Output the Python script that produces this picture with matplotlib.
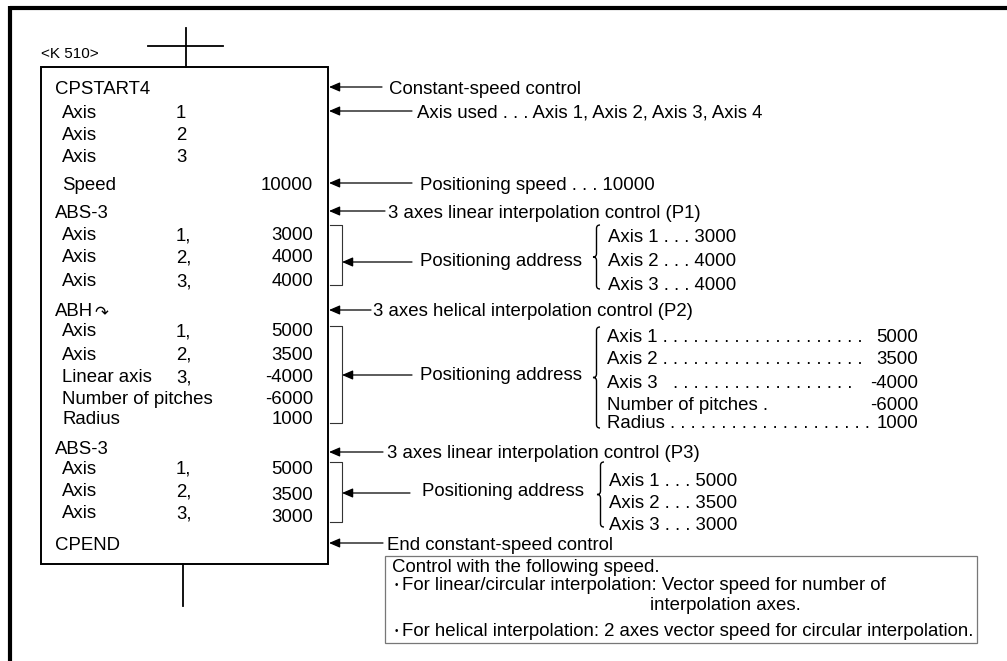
import matplotlib
matplotlib.use("Agg")
import matplotlib.pyplot as plt
from matplotlib.path import Path
from matplotlib.patches import PathPatch, Rectangle

plt.rcParams["font.family"] = ["Liberation Sans", "DejaVu Sans"]

# Program listing inside the box
prog_names = [
    "CPSTART4", "Axis", "Axis", "Axis", "Speed",
    "ABS-3", "Axis", "Axis", "Axis",
    "ABH", "Axis", "Axis", "Linear axis", "Number of pitches", "Radius",
    "ABS-3", "Axis", "Axis", "Axis",
    "CPEND",
]
prog_axes = [
    "", "1", "2", "3", "",
    "", "1,", "2,", "3,",
    "", "1,", "2,", "3,", "", "",
    "", "1,", "2,", "3,",
    "",
]
prog_values = [
    "", "", "", "", "10000",
    "", "3000", "4000", "4000",
    "", "5000", "3500", "-4000", "-6000", "1000",
    "", "5000", "3500", "3000",
    "",
]
prog_header = [1, 0, 0, 0, 0, 1, 0, 0, 0, 1, 0, 0, 0, 0, 0, 1, 0, 0, 0, 1]

# Comments pointing at the listing
note_texts = [
    "Constant-speed control",
    "Axis used . . . Axis 1, Axis 2, Axis 3, Axis 4",
    "Positioning speed . . . 10000",
    "3 axes linear interpolation control (P1)",
    "3 axes helical interpolation control (P2)",
    "3 axes linear interpolation control (P3)",
    "End constant-speed control",
]

# Positioning address details
p1_lines = ["Axis 1 . . . 3000", "Axis 2 . . . 4000", "Axis 3 . . . 4000"]
p2_labels = [
    "Axis 1" + " ." * 20,
    "Axis 2" + " ." * 20,
    "Axis 3  " + " ." * 18,
    "Number of pitches .",
    "Radius" + " ." * 20,
]
p2_values = ["5000", "3500", "-4000", "-6000", "1000"]
p3_lines = ["Axis 1 . . . 5000", "Axis 2 . . . 3500", "Axis 3 . . . 3000"]

speed_note = [
    "Control with the following speed.",
    "For linear/circular interpolation: Vector speed for number of",
    "interpolation axes.",
    "For helical interpolation: 2 axes vector speed for circular interpolation.",
]

# Layout (pixel coordinates, y downwards)
row_y = [87, 111, 133, 155, 183, 211, 234, 256, 280, 310, 330, 353, 376, 398, 417,
         447, 467, 490, 512, 544]
value_y = [87, 111, 133, 155, 183, 211, 234, 256, 280, 310, 330, 353, 376, 398, 417,
           447, 467, 493, 515, 544]
note_y = [87, 111, 183, 211, 310, 452, 543]
note_line_end = [382, 412, 412, 385, 371, 383, 383]
note_text_x = [389, 417, 420, 388, 373, 387, 387]

FS = 13.4
BOX_L, BOX_R, BOX_T, BOX_B = 41, 328, 67, 564


def draw_brace(ax, x, top, bottom, width=7):
    mid = (top + bottom) / 2
    c = width / 2
    verts = [
        (x + width, top),
        (x + c, top), (x + c, top + c),
        (x + c, mid - c),
        (x + c, mid), (x, mid),
        (x + c, mid), (x + c, mid + c),
        (x + c, bottom - c),
        (x + c, bottom), (x + width, bottom),
    ]
    codes = [Path.MOVETO, Path.CURVE3, Path.CURVE3, Path.LINETO,
             Path.CURVE3, Path.CURVE3, Path.CURVE3, Path.CURVE3,
             Path.LINETO, Path.CURVE3, Path.CURVE3]
    ax.add_patch(PathPatch(Path(verts, codes), fill=False, lw=1.0, ec="black"))


def left_arrow(ax, x_from, x_to, y):
    ax.annotate(
        "", xy=(x_to, y), xytext=(x_from, y),
        arrowprops=dict(arrowstyle="-|>,head_length=0.65,head_width=0.28",
                        lw=0.9, color="black", shrinkA=0, shrinkB=0,
                        mutation_scale=10),
    )


def address_group(ax, top, bottom, arrow_y, arrow_from, text_x, text_y, brace_x,
                  brace_top, brace_bottom):
    ax.plot([330, 342, 342, 330], [top, top, bottom, bottom], color="#333333", lw=0.8)
    left_arrow(ax, arrow_from, 342, arrow_y)
    ax.text(text_x, text_y, "Positioning address", fontsize=FS, va="center_baseline")
    draw_brace(ax, brace_x, brace_top, brace_bottom)


fig = plt.figure(figsize=(10.07, 6.61), dpi=100)
ax = fig.add_axes([0, 0, 1, 1])
ax.set_xlim(0, 1007)
ax.set_ylim(661, 0)
ax.axis("off")

# Outer frame (top and left only)
ax.plot([10, 1007], [7.5, 7.5], color="black", lw=3, solid_capstyle="butt")
ax.plot([10, 10], [6, 661], color="black", lw=3, solid_capstyle="butt")

# Ladder contact and box
ax.text(41, 52, "<K 510>", fontsize=11, va="center_baseline")
ax.plot([148, 223], [46, 46], color="black", lw=1.3)
ax.plot([186, 186], [28, BOX_T], color="black", lw=1.3)
ax.plot([183, 183], [BOX_B, 606], color="black", lw=1.3)
ax.add_patch(Rectangle((BOX_L, BOX_T), BOX_R - BOX_L, BOX_B - BOX_T,
                       fill=False, lw=1.4, ec="black"))

# Program listing
for name, axis_no, val, hdr, y, vy in zip(prog_names, prog_axes, prog_values,
                                           prog_header, row_y, value_y):
    ax.text(55 if hdr else 62, y, name, fontsize=FS, va="center_baseline")
    if axis_no:
        ax.text(176, y, axis_no, fontsize=FS, va="center_baseline")
    if val:
        ax.text(313, vy, val, fontsize=FS, va="center_baseline", ha="right")

# Helical arc symbol after ABH
ax.text(94, 310, "\u21b7", fontsize=12, va="center_baseline",
        family=["DejaVu Sans"])

# Comments with arrows
for txt, y, x_end, tx in zip(note_texts, note_y, note_line_end, note_text_x):
    left_arrow(ax, x_end, BOX_R + 1, y)
    ax.text(tx, y, txt, fontsize=FS, va="center_baseline")

# P1 positioning address
address_group(ax, 225, 285, 262, 412, 420, 260, 593, 225, 289)
for txt, y in zip(p1_lines, [236, 260, 283]):
    ax.text(608, y, txt, fontsize=FS, va="center_baseline")

# P2 positioning address
address_group(ax, 326, 423, 375, 412, 420, 373, 593, 327, 428)
for lab, val, y in zip(p2_labels, p2_values, [335, 357, 381, 403, 421]):
    ax.text(607, y, lab, fontsize=FS, va="center_baseline")
    ax.text(918, y, val, fontsize=FS, va="center_baseline", ha="right")

# P3 positioning address
address_group(ax, 462, 522, 493, 410, 422, 490, 597, 462, 527)
for txt, y in zip(p3_lines, [480, 502, 524]):
    ax.text(609, y, txt, fontsize=FS, va="center_baseline")

# Speed note box
ax.add_patch(Rectangle((385, 556), 977 - 385, 643 - 556, fill=False, lw=0.9,
                       ec="#777777"))
ax.text(392, 566, speed_note[0], fontsize=FS, va="center_baseline")
ax.text(396, 584, "\u2022", fontsize=7, va="center_baseline", ha="center")
ax.text(402, 584, speed_note[1], fontsize=FS, va="center_baseline")
ax.text(650, 603, speed_note[2], fontsize=FS, va="center_baseline")
ax.text(396, 630, "\u2022", fontsize=7, va="center_baseline", ha="center")
ax.text(402, 630, speed_note[3], fontsize=FS, va="center_baseline")

fig.savefig("out.png", dpi=100)
plt.close(fig)
